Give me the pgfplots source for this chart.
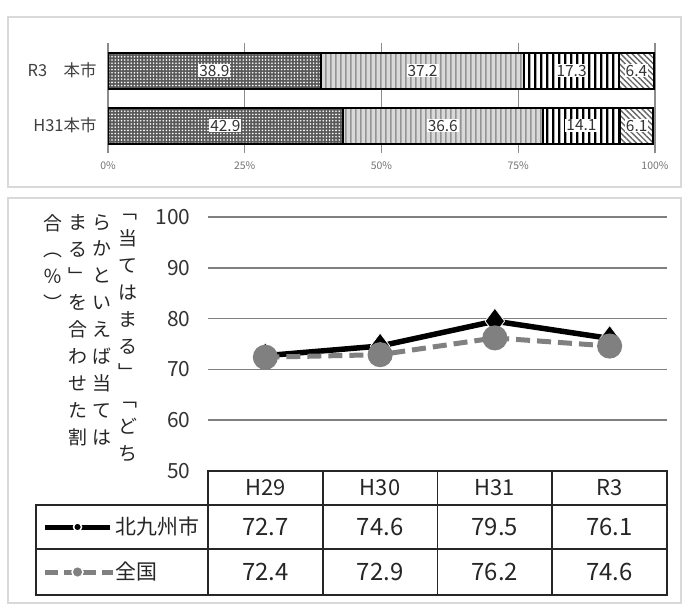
\documentclass[border=0pt]{standalone}
\usepackage{pgfplots}
\pgfplotsset{compat=1.18}
\usepackage{pgfplotstable}
\usetikzlibrary{patterns,patterns.meta}
\usepackage{fontspec}
\setmainfont{Noto Sans CJK JP}
\pgfplotsset{/pgf/number format/assume math mode=true}

% tall tiles so that no seams show inside a bar
\pgfdeclarepatternformonly{thickvlines}{\pgfqpoint{0bp}{0bp}}{\pgfqpoint{6bp}{300bp}}{\pgfqpoint{6bp}{300bp}}%
  {\pgfpathrectangle{\pgfqpoint{0bp}{0bp}}{\pgfqpoint{2.7bp}{300bp}}\pgfusepath{fill}}
\pgfdeclarepatternformonly{thinvlines}{\pgfqpoint{0bp}{0bp}}{\pgfqpoint{5bp}{300bp}}{\pgfqpoint{5bp}{300bp}}%
  {\pgfpathrectangle{\pgfqpoint{0bp}{0bp}}{\pgfqpoint{1.8bp}{300bp}}\pgfusepath{fill}}

\pgfplotstableread{
x kita zen
0 72.7 72.4
1 74.6 72.9
2 79.5 76.2
3 76.1 74.6
}\linedata

\pgfplotstableread{
y a b c d
0 42.9 36.6 14.1 6.1
1 38.9 37.2 17.3 6.4
}\bardata

\begin{document}
\begin{tikzpicture}
\useasboundingbox (0,0) rectangle (688bp,-604bp);
\fill[white] (0,0) rectangle (688bp,-604bp);
\draw[black!15, line width=1.5bp] (8bp,-17bp) rectangle (681bp,-187bp);
\draw[black!15, line width=1.5bp] (8bp,-198bp) rectangle (681bp,-603bp);

% ---------- top stacked bars ----------
\begin{axis}[
  at={(108bp,-153bp)}, anchor=south west,
  scale only axis, width=547bp, height=110bp,
  xbar stacked, bar width=36bp,
  xmin=0, xmax=100, ymin=-0.5, ymax=1.5,
  ytick={0,1}, yticklabels={H31本市,R3　本市},
  xtick={0,25,50,75,100}, xticklabels={0\%,25\%,50\%,75\%,100\%},
  xmajorgrids, major grid style={black!45, line width=1.2bp},
  axis line style={draw=none}, major tick length=0pt,
  yticklabel style={font=\fontsize{16.5}{16.5}\selectfont, text=black!75, xshift=-8bp},
  xticklabel style={font=\fontsize{10.5}{10.5}\selectfont, text=black!55, yshift=-5bp},
]
\addplot[draw=black, line width=2bp, fill=black!65,
  postaction={pattern={Dots[distance=3.2bp, radius=0.9bp]}, pattern color=white}]
  table[x=a, y=y]{\bardata};
\addplot[draw=black, line width=2bp, fill=black!15,
  postaction={pattern=thinvlines, pattern color=black!42}]
  table[x=b, y=y]{\bardata};
\addplot[draw=black, line width=2bp, fill=white,
  postaction={pattern=thickvlines, pattern color=black}]
  table[x=c, y=y]{\bardata};
\addplot[draw=black, line width=2bp, fill=white,
  postaction={pattern={Lines[angle=-45, distance=4bp, line width=1.4bp]}, pattern color=black!60}]
  table[x=d, y=y]{\bardata};
\end{axis}

% ---------- bar value labels ----------
\begin{axis}[
  at={(108bp,-153bp)}, anchor=south west,
  scale only axis, width=547bp, height=110bp,
  xmin=0, xmax=100, ymin=-0.5, ymax=1.5, hide axis,
  nodes near coords,
  every node near coord/.style={anchor=center, fill=white, inner sep=1bp,
    font=\fontsize{15.5}{15.5}\selectfont, text=black!80},
]
\addplot[draw=none, point meta=\thisrow{a}] table[x expr=\thisrow{a}/2, y=y]{\bardata};
\addplot[draw=none, point meta=\thisrow{b}] table[x expr=\thisrow{a}+\thisrow{b}/2, y=y]{\bardata};
\addplot[draw=none, point meta=\thisrow{c}] table[x expr=\thisrow{a}+\thisrow{b}+\thisrow{c}/2, y=y]{\bardata};
\addplot[draw=none, point meta=\thisrow{d}] table[x expr=\thisrow{a}+\thisrow{b}+\thisrow{c}+\thisrow{d}/2, y=y]{\bardata};
\end{axis}

% ---------- line chart ----------
\begin{axis}[
  at={(208bp,-471bp)}, anchor=south west,
  scale only axis, width=459bp, height=254bp,
  xmin=-0.5, xmax=3.5, ymin=50, ymax=100,
  ytick={50,60,70,80,90,100}, xtick=\empty,
  ymajorgrids, major grid style={black!50, line width=1.6bp},
  axis line style={draw=none}, major tick length=0pt,
  yticklabel style={font=\fontsize{21}{21}\selectfont, text=black!80, xshift=-14bp},
  clip=false,
]
\addplot[black, line width=5.5bp, line join=round, mark=diamond*, mark size=13bp,
  mark options={fill=black, draw=white, line width=0.8bp}]
  table[x=x, y=kita]{\linedata};
\addplot[black!50, line width=5bp, dash pattern=on 14bp off 7bp, mark=*, mark size=10bp,
  mark options={solid, fill=black!50, draw=black!50}]
  table[x=x, y=zen]{\linedata};
\end{axis}

% ---------- data table ----------
\begin{axis}[
  at={(208bp,-595bp)}, anchor=south west,
  scale only axis, width=459bp, height=124bp,
  xmin=-0.5, xmax=3.5, ymin=0, ymax=124, hide axis, clip=false,
  nodes near coords,
  every node near coord/.style={anchor=center, font=\fontsize{24}{24}\selectfont, text=black!85},
]
\draw[black!85, line width=1.6bp] (axis cs:-0.5,90) rectangle (axis cs:3.5,124);
\draw[black!85, line width=1.6bp] (axis cs:-2,0) rectangle (axis cs:3.5,90);
\draw[black!85, line width=1.6bp] (axis cs:-2,46) -- (axis cs:3.5,46);
\draw[black!85, line width=1.6bp] (axis cs:-0.5,0) -- (axis cs:-0.5,124);
\draw[black!85, line width=1.6bp] (axis cs:0.5,0) -- (axis cs:0.5,124);
\draw[black!85, line width=1.6bp] (axis cs:1.5,0) -- (axis cs:1.5,124);
\draw[black!85, line width=1.6bp] (axis cs:2.5,0) -- (axis cs:2.5,124);
\addplot[draw=none, point meta=explicit symbolic,
  every node near coord/.append style={font=\fontsize{22}{22}\selectfont}]
  coordinates {(0,107) [H29] (1,107) [H30] (2,107) [H31] (3,107) [R3]};
\addplot[draw=none, point meta=\thisrow{kita}] table[x=x, y expr=68]{\linedata};
\addplot[draw=none, point meta=\thisrow{zen}] table[x=x, y expr=23]{\linedata};
% legend glyphs
\draw[black, line width=5bp] (axis cs:-1.92,68) -- (axis cs:-1.354,68);
\node[circle, fill=black, draw=white, line width=1.5bp, inner sep=0pt, minimum size=8bp] at (axis cs:-1.637,68) {};
\draw[black!50, line width=5bp, dash pattern=on 13bp off 6bp] (axis cs:-1.92,23) -- (axis cs:-1.33,23);
\node[circle, fill=black!50, draw=white, line width=1.5bp, inner sep=0pt, minimum size=11bp] at (axis cs:-1.637,23) {};
\node[anchor=west, inner sep=0pt, font=\fontsize{21}{21}\selectfont, text=black!85] at (axis cs:-1.31,68) {北九州市};
\node[anchor=west, inner sep=0pt, font=\fontsize{21}{21}\selectfont, text=black!85] at (axis cs:-1.31,23) {全国};
\end{axis}

% ---------- vertical y label ----------
\begin{scope}[every node/.style={anchor=north, inner sep=0pt, align=center,
    font=\fontsize{19}{27}\selectfont, text=black!85}]
\node at (128bp,-214bp) {﹁\\当\\て\\は\\ま\\る\\﹂\\﹁\\ど\\ち};
\node at (102bp,-214bp) {ら\\か\\と\\い\\え\\ば\\当\\て\\は};
\node at (78bp,-214bp) {ま\\る\\﹂\\を\\合\\わ\\せ\\た\\割};
\node at (53bp,-214bp) {合\\︵\\％\\︶};
\end{scope}
\end{tikzpicture}
\end{document}
